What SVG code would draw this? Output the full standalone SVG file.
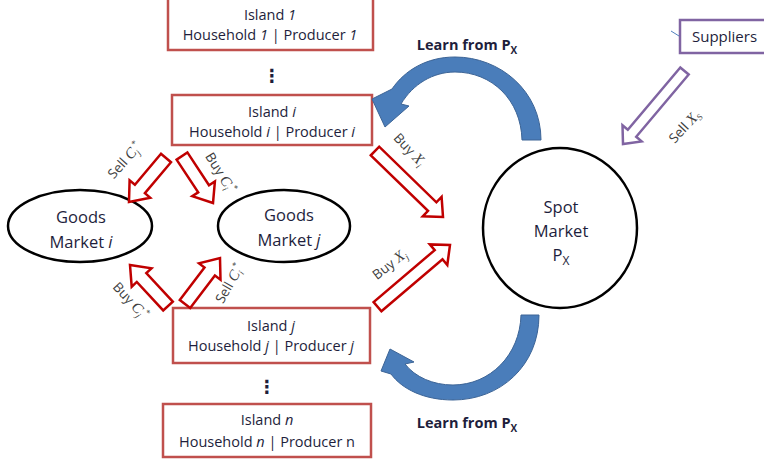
<svg xmlns="http://www.w3.org/2000/svg" width="764" height="465" viewBox="0 0 764 465">
<style>
.box{fill:#fff;stroke:#c0504d;stroke-width:2.5}
.t{font-family:"Open Sans","Liberation Sans",sans-serif;fill:#1e1e3c}
.it{font-style:italic}
.isl{font-size:14.5px;text-anchor:middle}
.mkt{font-size:16.5px;text-anchor:middle}
.lbl{font-family:"Open Sans","Liberation Sans",sans-serif;font-size:13.5px;fill:#404040;text-anchor:middle}
.m{font-family:"Liberation Serif",serif;font-style:italic;font-size:15px}
.s{font-family:"Liberation Serif",serif;font-style:italic;font-size:9px}
.ell{fill:#fff;stroke:#000;stroke-width:2.5}
.ra{fill:#fff;stroke:#c00000;stroke-width:2.5}
.pa{fill:#fff;stroke:#8064a2;stroke-width:2.5}
.ba{fill:#4a7dba;stroke:#3c6496;stroke-width:1}
.lrn{font-size:14.5px;font-weight:bold;text-anchor:middle}
.dots{font-family:"DejaVu Sans",sans-serif;font-size:18px;font-weight:bold;text-anchor:middle;fill:#1e1e3c}
</style>
<rect width="764" height="465" fill="#fff"/>
<g id="island1">
<rect class="box" x="168" y="-2" width="205" height="52"/>
<text class="t isl" x="270" y="20">Island <tspan class="it">1</tspan></text>
<text class="t isl" x="270" y="40">Household <tspan class="it">1</tspan> | Producer <tspan class="it">1</tspan></text>
</g>
<g id="dots-top"><text class="dots" x="272" y="82">⋮</text></g>
<g id="island-i">
<rect class="box" x="172" y="95" width="200" height="50"/>
<text class="t isl" x="272" y="117">Island <tspan class="it">i</tspan></text>
<text class="t isl" x="272" y="137">Household <tspan class="it">i</tspan> | Producer <tspan class="it">i</tspan></text>
</g>
<g id="island-j">
<rect class="box" x="173" y="308" width="197" height="55"/>
<text class="t isl" x="271" y="331">Island <tspan class="it">j</tspan></text>
<text class="t isl" x="271" y="351">Household <tspan class="it">j</tspan> | Producer <tspan class="it">j</tspan></text>
</g>
<g id="dots-bottom"><text class="dots" x="267" y="393">⋮</text></g>
<g id="island-n">
<rect class="box" x="163" y="404" width="208" height="53"/>
<text class="t isl" x="267" y="425">Island <tspan class="it">n</tspan></text>
<text class="t isl" x="267" y="447">Household <tspan class="it">n</tspan> | Producer n</text>
</g>
<g id="goods-i">
<ellipse class="ell" cx="80" cy="226" rx="72" ry="36"/>
<text class="t mkt" x="81" y="223">Goods</text>
<text class="t mkt" x="81" y="248">Market <tspan class="it">i</tspan></text>
</g>
<g id="goods-j">
<ellipse class="ell" cx="284" cy="226" rx="66" ry="36"/>
<text class="t mkt" x="289" y="221">Goods</text>
<text class="t mkt" x="289" y="246">Market <tspan class="it">j</tspan></text>
</g>
<g id="spot">
<ellipse class="ell" cx="560" cy="228" rx="77" ry="80"/>
<text class="t mkt" x="561" y="213">Spot</text>
<text class="t mkt" x="561" y="237">Market</text>
<text class="t mkt" x="561" y="261">P<tspan font-size="12" dy="4">X</tspan></text>
</g>
<g id="suppliers">
<rect x="680" y="20" width="100" height="33" fill="#fff" stroke="#8064a2" stroke-width="2.5"/>
<line x1="671" y1="31" x2="679" y2="36" stroke="#4f81bd" stroke-width="1"/>
<text class="t" x="692" y="42" font-size="15">Suppliers</text>
</g>
<g id="connectors">
<polygon class="ra" points="161,153.8 134.9,184.8 129.6,180.3 129,202 150.2,197.7 144.9,193.2 171,162.2"/>
<polygon class="ra" points="176.6,159.6 198.2,192.4 192.3,196.2 213,203 214.9,181.4 209,185.2 187.4,152.4"/>
<polygon class="ra" points="172.8,301.6 146.3,273.1 151.5,268.3 130,265 131.7,286.7 136.8,281.9 163.2,310.4"/>
<polygon class="ra" points="190.2,307.9 214.9,275.5 220.5,279.7 220,258 199,263.4 204.5,267.6 179.8,300.1"/>
<polygon class="ra" points="370.8,155.3 428,210.9 422.8,216.3 443,217 441.6,196.9 436.4,202.3 379.2,146.7"/>
<polygon class="ra" points="381.4,311.3 442.5,259.3 447.3,265 450,245 429.8,244.4 434.7,250.1 373.6,302.1"/>
<polygon class="pa" points="680.3,67.5 627.8,129.8 622.5,125.3 623,144 641.6,141.4 636.2,136.8 688.7,74.5"/>
<path class="ba" d="M541,140 C541,91 500,57 455,57 C427,57 405,70 392,89 L372,99 L385,127 L409,106 L401,104 C413,84 433,72 455,72 C492,72 521,100 522,140 Z"/>
<path class="ba" d="M539,315 C539,366 500,400 453,400 C424,400 402,389 391,374 L381,371 L390,349 L414,362 L405,364 C415,377 433,385 453,385 C490,385 520,355 521,315 Z"/>
<text class="lbl" transform="translate(125,161) rotate(-48)" y="4">Sell <tspan class="m">C</tspan><tspan class="s" dy="3">j</tspan><tspan class="s" dy="-9">*</tspan></text>
<text class="lbl" transform="translate(220,173) rotate(58)" y="4">Buy <tspan class="m">C</tspan><tspan class="s" dy="3">i</tspan><tspan class="s" dy="-9">*</tspan></text>
<text class="lbl" transform="translate(130,301) rotate(47)" y="4">Buy <tspan class="m">C</tspan><tspan class="s" dy="3">j</tspan><tspan class="s" dy="-9">*</tspan></text>
<text class="lbl" transform="translate(230,284) rotate(-60)" y="4">Sell <tspan class="m">C</tspan><tspan class="s" dy="3">i</tspan><tspan class="s" dy="-9">*</tspan></text>
<text class="lbl" transform="translate(409,150) rotate(47)" y="4">Buy <tspan class="m">X</tspan><tspan class="s" dy="3">i</tspan></text>
<text class="lbl" transform="translate(390,265) rotate(-38)" y="4">Buy <tspan class="m">X</tspan><tspan class="s" dy="3">j</tspan></text>
<text class="lbl" transform="translate(685,127) rotate(-47)" y="4">Sell <tspan class="m">X</tspan><tspan class="s" dy="3">S</tspan></text>
<text class="t lrn" x="467" y="50">Learn from P<tspan font-size="10" dy="4">X</tspan></text>
<text class="t lrn" x="467" y="428">Learn from P<tspan font-size="10" dy="4">X</tspan></text>
</g>
</svg>
